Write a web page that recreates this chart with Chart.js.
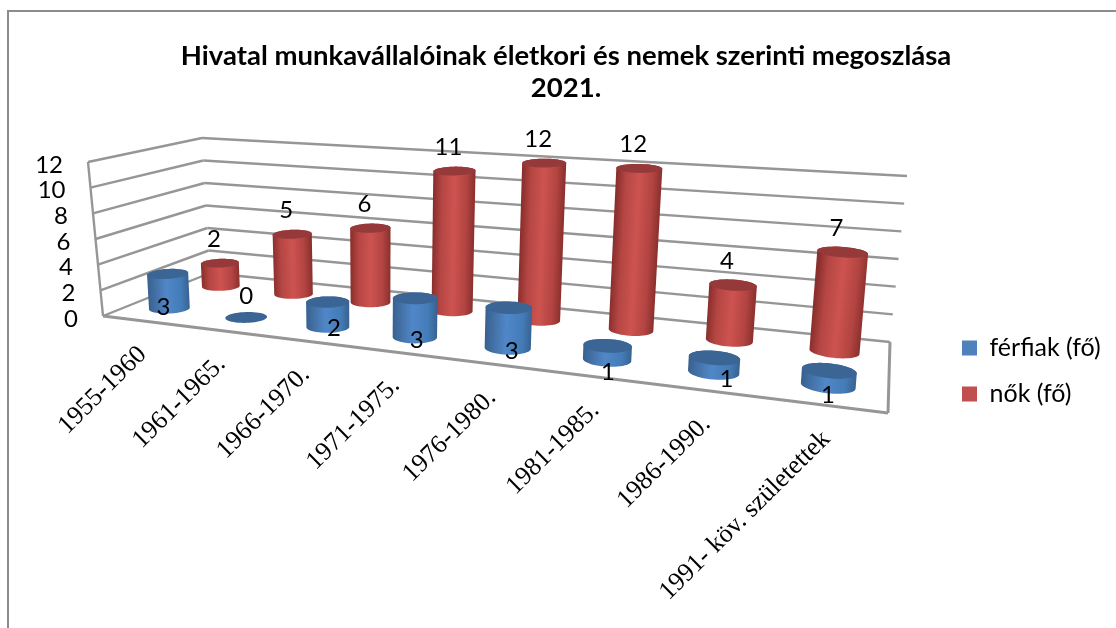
<!DOCTYPE html>
<html lang="hu">
<head>
<meta charset="utf-8">
<title>Hivatal munkavállalóinak megoszlása</title>
<script src="https://cdn.jsdelivr.net/npm/chart.js@4"></script>
<style>
  html, body { margin: 0; background: #fff; }
  #wrap { width: 1116px; height: 628px; }
</style>
</head>
<body>
<div id="wrap"><canvas id="chart" width="1116" height="628"></canvas></div>
<script>
const categories = ['1955-1960', '1961-1965.', '1966-1970.', '1971-1975.', '1976-1980.', '1981-1985.', '1986-1990.', '1991- köv. születettek'];
const ferfiak = [3, 0, 2, 3, 3, 1, 1, 1];
const nok = [2, 5, 6, 11, 12, 12, 4, 7];
const yTicks = [0, 2, 4, 6, 8, 10, 12];
const titleLines = ['Hivatal munkavállalóinak életkori és nemek szerinti megoszlása', '2021.'];

// A 3D doboz sarkai a képernyőn: padló + a fal/oszlop magasságvektorai
const FLOOR = { fl: [103, 316], fr: [888, 413], br: [890, 342], bl: [210, 273] };
const WALL_UP = { fl: [-15, -154], fr: [14, -180], br: [17, -166], bl: [-8, -135] };
const BAR_UP = { fl: [-9, -134], fr: [14, -187], br: [16, -168], bl: [-7, -138] };
const DEPTH = [0.25, 0.75];
const RADIUS_D = 0.1;
const GRID = '#969696';
// a férfi címkék kézi eltolása, az eredeti sem áll szabályosan
const MALE_LABEL_NUDGE = [[-6, -8], [0, 0], [6, -6], [2, -4], [4, -4], [1, 6], [13, 0], [0, 3]];

const SHADE = [
  { lid: '#3b6594', stops: [[0, '#38618f'], [0.25, '#4776ae'], [0.45, '#4f87c9'], [0.8, '#447cb8'], [1, '#386291']] },
  { lid: '#95393a', stops: [[0, '#8a2f2d'], [0.2, '#b54643'], [0.5, '#cd5350'], [0.8, '#b24441'], [1, '#8a302e']] },
];

// egységnégyzet -> padló négyszög (homográfia)
const H = (() => {
  const [x0, y0] = FLOOR.fl, [x1, y1] = FLOOR.fr, [x2, y2] = FLOOR.br, [x3, y3] = FLOOR.bl;
  const dx1 = x1 - x2, dx2 = x3 - x2, sx = x0 - x1 + x2 - x3;
  const dy1 = y1 - y2, dy2 = y3 - y2, sy = y0 - y1 + y2 - y3;
  const den = dx1 * dy2 - dx2 * dy1;
  const g = (sx * dy2 - dx2 * sy) / den, h = (dx1 * sy - sx * dy1) / den;
  return { a: x1 - x0 + g * x1, b: x3 - x0 + h * x3, c: x0, d: y1 - y0 + g * y1, e: y3 - y0 + h * y3, f: y0, g, h };
})();

function project(u, d, t, up) {
  const w = H.g * u + H.h * d + 1;
  const bx = (H.a * u + H.b * d + H.c) / w;
  const by = (H.d * u + H.e * d + H.f) / w;
  const lift = k => (1 - u) * (1 - d) * up.fl[k] + u * (1 - d) * up.fr[k] + u * d * up.br[k] + (1 - u) * d * up.bl[k];
  return [bx + t * lift(0), by + t * lift(1)];
}

function line(ctx, a, b) {
  ctx.beginPath();
  ctx.moveTo(a[0], a[1]);
  ctx.lineTo(b[0], b[1]);
  ctx.stroke();
}

function drawCylinder(ctx, u, d, t, ru, shade) {
  const N = 48, base = [], top = [];
  for (let k = 0; k < N; k++) {
    const a = (k / N) * Math.PI * 2;
    const cu = u + ru * Math.cos(a), cd = d + RADIUS_D * Math.sin(a);
    base.push(project(cu, cd, 0, BAR_UP));
    top.push(project(cu, cd, t, BAR_UP));
  }
  const polygon = pts => {
    ctx.beginPath();
    pts.forEach((p, i) => (i ? ctx.lineTo(p[0], p[1]) : ctx.moveTo(p[0], p[1])));
    ctx.closePath();
  };
  if (t > 0) {
    const b0 = project(u, d, 0, BAR_UP), t0 = project(u, d, t, BAR_UP);
    const ax = t0[0] - b0[0], ay = t0[1] - b0[1], len = Math.hypot(ax, ay);
    const nx = -ay / len, ny = ax / len;
    let iL = 0, iR = 0;
    base.forEach((p, k) => {
      const s = (p[0] - b0[0]) * nx + (p[1] - b0[1]) * ny;
      const sL = (base[iL][0] - b0[0]) * nx + (base[iL][1] - b0[1]) * ny;
      const sR = (base[iR][0] - b0[0]) * nx + (base[iR][1] - b0[1]) * ny;
      if (s < sL) iL = k;
      if (s > sR) iR = k;
    });
    // alsó ív az alapkörön, felső ív a fedlapon
    const arc = (pts, from, to, step) => {
      const out = [];
      for (let k = from; ; k = (k + step + N) % N) {
        out.push(pts[k]);
        if (k === to) break;
      }
      return out;
    };
    const along = p => (p[0] - b0[0]) * ax + (p[1] - b0[1]) * ay;
    const a1 = arc(base, iL, iR, 1), a2 = arc(base, iL, iR, -1);
    const lowerFwd = along(a1[a1.length >> 1]) < along(a2[a2.length >> 1]);
    const lower = lowerFwd ? a1 : a2;
    const upper = arc(top, iR, iL, lowerFwd ? 1 : -1);
    const grad = ctx.createLinearGradient(base[iL][0], base[iL][1], base[iR][0], base[iR][1]);
    shade.stops.forEach(s => grad.addColorStop(s[0], s[1]));
    ctx.fillStyle = grad;
    polygon(lower.concat(upper));
    ctx.fill();
  }
  ctx.fillStyle = shade.lid;
  polygon(top);
  ctx.fill();
}

const frame3d = {
  id: 'frame3d',
  beforeDraw(chart) {
    const ctx = chart.ctx;
    ctx.save();
    ctx.strokeStyle = '#8c8c8c';
    ctx.lineWidth = 2;
    ctx.beginPath();
    ctx.moveTo(8, 628);
    ctx.lineTo(8, 11);
    ctx.lineTo(1116, 11);
    ctx.stroke();
    ctx.restore();
  },
  afterLayout(chart) {
    // a jelmagyarázat a jobb oldalon, a padló magasságában áll
    const lg = chart.legend, pad = lg.options.labels.padding;
    lg.left = 962 - pad;
    lg.top = 335.5 - pad;
    lg.bottom = lg.top + 200;
  },
  beforeDatasetsDraw(chart) {
    const ctx = chart.ctx, y = chart.scales.y, area = chart.chartArea;
    const level = v => (area.bottom - y.getPixelForValue(v)) / area.height;
    ctx.save();
    ctx.strokeStyle = GRID;
    ctx.lineWidth = 2.4;
    y.ticks.forEach(tick => {
      const t = level(tick.value);
      const a = project(0, 0, t, WALL_UP), b = project(0, 1, t, WALL_UP), c = project(1, 1, t, WALL_UP);
      line(ctx, a, b);
      line(ctx, b, c);
      ctx.fillStyle = '#000';
      ctx.font = '24px Lato';
      ctx.textAlign = 'right';
      ctx.textBaseline = 'middle';
      ctx.fillText(tick.label, a[0] - 25, a[1] + 3);
    });
    const p = (u, d) => project(u, d, 0, WALL_UP);
    line(ctx, project(0, 0, 1, WALL_UP), p(0, 0));
    ctx.lineWidth = 3;
    line(ctx, p(0, 0), p(1, 0));
    line(ctx, p(1, 0), p(1, 1));
    ctx.restore();
  },
  beforeDatasetDraw(chart, args) {
    const ctx = chart.ctx, area = chart.chartArea, i = args.index;
    const meta = chart.getDatasetMeta(i);
    ctx.save();
    meta.data.forEach(el => {
      const u = (el.x - area.left) / area.width;
      const t = (el.base - el.y) / area.height;
      drawCylinder(ctx, u, DEPTH[i], t, el.width / 2 / area.width, SHADE[i]);
    });
    ctx.restore();
    return false;
  },
  afterDatasetsDraw(chart) {
    const ctx = chart.ctx, area = chart.chartArea, xs = chart.scales.x;
    ctx.save();
    ctx.fillStyle = '#000';
    ctx.font = '24px Lato';
    ctx.textAlign = 'center';
    ctx.textBaseline = 'middle';
    chart.data.datasets.forEach((ds, i) => {
      chart.getDatasetMeta(i).data.forEach((el, j) => {
        const u = (el.x - area.left) / area.width;
        const t = (el.base - el.y) / area.height;
        const top = project(u, DEPTH[i], t, BAR_UP);
        const base = project(u, DEPTH[i], 0, BAR_UP);
        if (i === 1) {
          ctx.fillText(ds.data[j], top[0] - 6, top[1] - 24);
        } else if (ds.data[j] === 0) {
          ctx.fillText(ds.data[j], base[0], base[1] - 21);
        } else {
          const n = MALE_LABEL_NUDGE[j];
          ctx.fillText(ds.data[j], base[0] + n[0], base[1] + 7 + n[1]);
        }
      });
    });
    ctx.font = '26px "Liberation Serif"';
    ctx.textAlign = 'right';
    categories.forEach((label, j) => {
      const u = (xs.getPixelForValue(j) - area.left) / area.width;
      const p = project(u, 0, 0, WALL_UP);
      ctx.save();
      ctx.translate(p[0] + 2, p[1] + 30);
      ctx.rotate(-0.78);
      ctx.fillText(label, 0, 0);
      ctx.restore();
    });
    ctx.restore();
  },
};

new Chart(document.getElementById('chart'), {
  type: 'bar',
  data: {
    labels: categories,
    datasets: [
      { label: 'férfiak (fő)', data: ferfiak, backgroundColor: '#4f81bd' },
      { label: 'nők (fő)', data: nok, backgroundColor: '#c0504d' },
    ],
  },
  plugins: [frame3d],
  options: {
    responsive: false,
    animation: false,
    layout: { padding: { left: 16, right: 0, top: 6, bottom: 200 } },
    datasets: { bar: { grouped: false, barPercentage: 0.46, categoryPercentage: 1 } },
    scales: {
      x: { display: false },
      y: {
        display: false,
        min: 0,
        max: 12,
        afterBuildTicks: scale => { scale.ticks = yTicks.map(value => ({ value })); },
      },
    },
    plugins: {
      title: {
        display: true,
        text: titleLines,
        color: '#000',
        font: { family: 'Lato', size: 27.5, weight: 'bold', lineHeight: 1.164 },
        padding: { top: 34, bottom: 36 },
      },
      legend: {
        position: 'right',
        align: 'start',
        labels: { boxWidth: 15, boxHeight: 15, padding: 21, color: '#000', font: { family: 'Lato', size: 25 } },
      },
      tooltip: { enabled: false },
    },
  },
});
</script>
</body>
</html>
